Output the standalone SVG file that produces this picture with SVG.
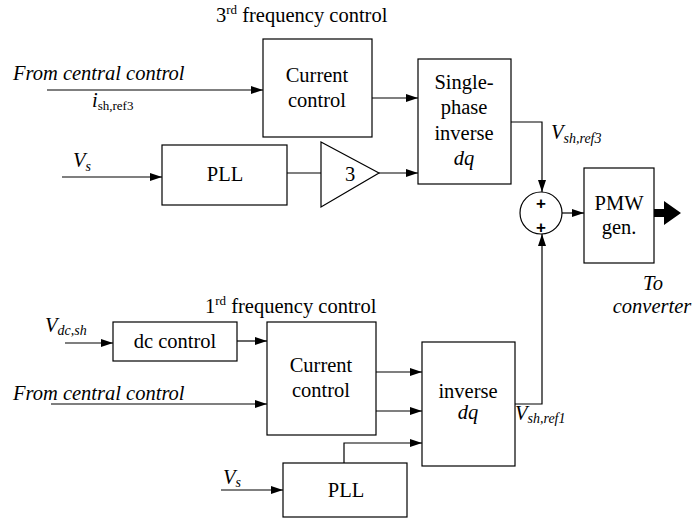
<svg xmlns="http://www.w3.org/2000/svg" width="693" height="523" viewBox="0 0 693 523">
<style>
.b{fill:#fff;stroke:#000;stroke-width:1.2}
.t{font-family:'Liberation Serif','Times New Roman',serif;font-size:20.5px;fill:#000}
.c{text-anchor:middle}
.i{font-style:italic}
.s{font-size:14px}
.u{font-size:13px}
.l{fill:none;stroke:#000;stroke-width:1.2}
.p{font-family:'Liberation Sans',Arial,sans-serif;font-weight:bold;font-size:17px;text-anchor:middle}
</style>
<defs>
<marker id="a" viewBox="0 0 12 8" refX="12" refY="4" markerWidth="12" markerHeight="8" markerUnits="userSpaceOnUse" orient="auto">
<path d="M0,0L12,4L0,8z" fill="#000"/>
</marker>
</defs>
<text class="t" x="216" y="22">3<tspan class="u" dy="-8">rd</tspan><tspan dy="8"> frequency control</tspan></text>
<text class="t" x="205" y="313">1<tspan class="u" dy="-8">rd</tspan><tspan dy="8"> frequency control</tspan></text>
<g id="cc3"><rect class="b" x="263" y="39" width="109" height="98"/><text class="t c" x="317" y="82">Current</text><text class="t c" x="317" y="107">control</text></g>
<g id="inv3"><rect class="b" x="418" y="59" width="93" height="125"/><text class="t c" x="464" y="89">Single-</text><text class="t c" x="464" y="114">phase</text><text class="t c" x="464" y="140">inverse</text><text class="t c i" x="464" y="165">dq</text></g>
<g id="pll3"><rect class="b" x="162" y="145" width="125" height="60"/><text class="t c" x="225" y="181">PLL</text></g>
<g id="gain"><path class="b" d="M321,142L379,173L321,207z"/><text class="t c" x="350" y="181">3</text></g>
<g id="sum"><circle class="b" cx="541" cy="213" r="21"/><text class="p" x="541" y="209">+</text><text class="p" x="541" y="233">+</text></g>
<g id="pwm"><rect class="b" x="584" y="168" width="70" height="95"/><text class="t c" x="619" y="210">PMW</text><text class="t c" x="619" y="234">gen.</text></g>
<g id="dc"><rect class="b" x="113" y="322" width="124" height="39"/><text class="t c" x="175" y="348">dc control</text></g>
<g id="cc1"><rect class="b" x="267" y="322" width="109" height="113"/><text class="t c" x="321" y="372">Current</text><text class="t c" x="321" y="397">control</text></g>
<g id="inv1"><rect class="b" x="422" y="342" width="93" height="124"/><text class="t c" x="468" y="398">inverse</text><text class="t c i" x="468" y="419">dq</text></g>
<g id="pll1"><rect class="b" x="283" y="463" width="124" height="54"/><text class="t c" x="346" y="497">PLL</text></g>
<g id="connectors">
<path class="l" d="M47,90H263" marker-end="url(#a)"/>
<path class="l" d="M372,98H418" marker-end="url(#a)"/>
<path class="l" d="M62,177H162" marker-end="url(#a)"/>
<path class="l" d="M287,173H321"/>
<path class="l" d="M379,173H418" marker-end="url(#a)"/>
<path class="l" d="M511,122H542V192" marker-end="url(#a)"/>
<path class="l" d="M562,213H584" marker-end="url(#a)"/>
<path d="M654,209H664V201L681,213L664,225V217H654z" fill="#000"/>
<path class="l" d="M65,343H113" marker-end="url(#a)"/>
<path class="l" d="M237,341H267" marker-end="url(#a)"/>
<path class="l" d="M51,404H267" marker-end="url(#a)"/>
<path class="l" d="M376,372H422" marker-end="url(#a)"/>
<path class="l" d="M376,411H422" marker-end="url(#a)"/>
<path class="l" d="M344,463V443H422" marker-end="url(#a)"/>
<path class="l" d="M221,490H283" marker-end="url(#a)"/>
<path class="l" d="M515,404H542V234" marker-end="url(#a)"/>
</g>
<text class="t i" x="13" y="80">From central control</text>
<text class="t i" x="92" y="107">i<tspan class="u" font-style="normal" dy="3">sh,ref3</tspan></text>
<text class="t i" x="73" y="167">V<tspan class="s" dy="4">s</tspan></text>
<text class="t i" x="551" y="139">V<tspan class="s" dy="4">sh,ref3</tspan></text>
<text class="t i c" x="653" y="290">To</text>
<text class="t i c" x="652" y="313">converter</text>
<text class="t i" x="45" y="332">V<tspan class="s" dy="3">dc,sh</tspan></text>
<text class="t i" x="13" y="400">From central control</text>
<text class="t i" x="515" y="420">V<tspan class="s" dy="3">sh,ref1</tspan></text>
<text class="t i" x="223" y="484">V<tspan class="s" dy="3">s</tspan></text>
</svg>
